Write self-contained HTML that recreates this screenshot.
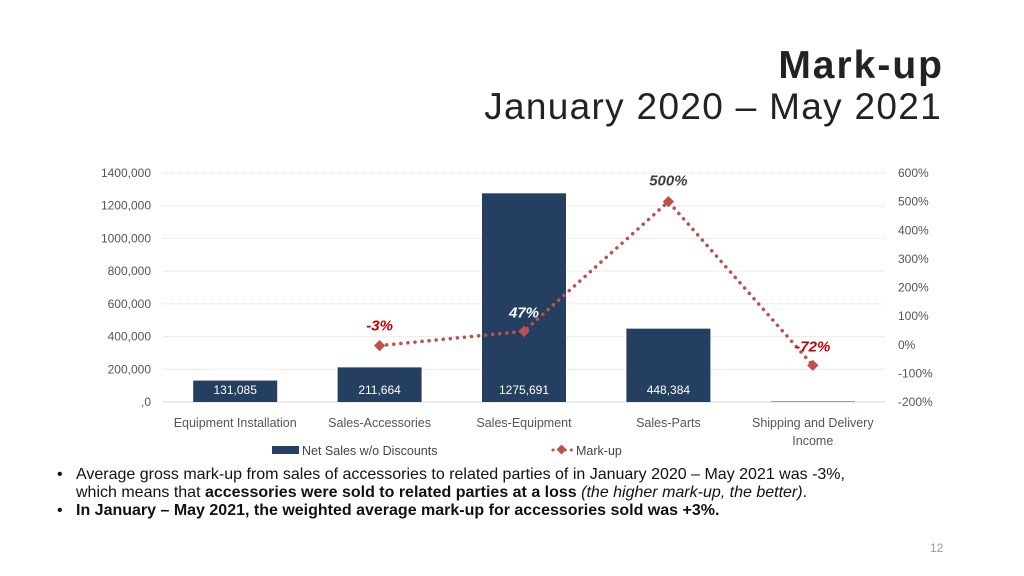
<!DOCTYPE html>
<html><head><meta charset="utf-8"><style>
body{margin:0;width:1024px;height:576px;background:#fff;font-family:"Liberation Sans",sans-serif;position:relative;overflow:hidden}
.t1{position:absolute;right:80px;top:44px;font-size:39px;font-weight:bold;color:#222;letter-spacing:2px}
.t2{position:absolute;right:82px;top:86px;font-size:37px;color:#222;letter-spacing:1.3px}
.bul{position:absolute;left:57px;top:466px;font-size:16px;color:#111;line-height:18px;width:815px}
.bul div{position:relative;padding-left:19px}
.bul div span.d{position:absolute;left:0}
.pn{position:absolute;left:930px;top:541px;font-size:12px;color:#999}
</style></head><body>
<div class="t1">Mark-up</div>
<div class="t2">January 2020 – May 2021</div>
<svg id="chart" width="1024" height="576" style="position:absolute;left:0;top:0"></svg>
<div class="bul">
<div><span class="d">•</span>Average gross mark-up from sales of accessories to related parties of in January 2020 – May 2021 was -3%, which means that <b>accessories were sold to related parties at a loss</b> <i>(the higher mark-up, the better)</i>.</div>
<div><span class="d">•</span><b>In January – May 2021, the weighted average mark-up for accessories sold was +3%.</b></div>
</div>
<div class="pn">12</div>
<script>
const categories=["Equipment Installation","Sales-Accessories","Sales-Equipment","Sales-Parts","Shipping and Delivery|Income"];
const sales=[131085,211664,1275691,448384,3000];
const salesLabels=["131,085","211,664","1275,691","448,384",""];
const markup=[null,-3,47,500,-72];
const leftTicks=[0,200000,400000,600000,800000,1000000,1200000,1400000];
const leftTickLabels=[",0","200,000","400,000","600,000","800,000","1000,000","1200,000","1400,000"];
const rightTicks=[-200,-100,0,100,200,300,400,500,600];
const rightTickLabels=["-200%","-100%","0%","100%","200%","300%","400%","500%","600%"];

const svg=document.getElementById('chart');const NS='http://www.w3.org/2000/svg';
function el(t,a,txt){const e=document.createElementNS(NS,t);for(const k in a)e.setAttribute(k,a[k]);if(txt!=null)e.textContent=txt;svg.appendChild(e);return e;}
const x0=163,x1=885,yB=402,yT=173;
const yL=v=>yB-(v/1400000)*(yB-yT);
const yR=v=>yB-((v+200)/800)*(yB-yT);
const bw=(x1-x0)/categories.length;
const xC=i=>x0+bw*(i+0.5);
leftTicks.forEach((t,i)=>{const y=yL(t);
 if(i>0){const g=el('line',{x1:x0,x2:x1,y1:y,y2:y,stroke:'#ddd','stroke-dasharray':'1 1'});}
 const l=el('text',{x:151,y:y+4,'text-anchor':'end','font-size':12,fill:'#555'},leftTickLabels[i]);});
rightTicks.forEach((t,i)=>{const l=el('text',{x:898,y:yR(t)+4,'font-size':12,fill:'#555'},rightTickLabels[i]);});
const ax=el('line',{x1:x0,x2:x1,y1:yB,y2:yB,stroke:'#d9d9d9'});
categories.forEach((c,i)=>{const y=yL(sales[i]);
 const b=el('rect',{x:xC(i)-42,y:y,width:84,height:yB-y,fill:'#243f60'});
 if(salesLabels[i]){const t=el('text',{x:xC(i),y:394,'text-anchor':'middle','font-size':12,fill:'#fff'},salesLabels[i]);}
 c.split('|').forEach((p,j)=>{const t=el('text',{x:xC(i),y:427+j*18,'text-anchor':'middle','font-size':12.5,fill:'#555'},p);});});
const pts=markup.map((v,i)=>v==null?null:[xC(i),yR(v)]).filter(p=>p);
const ln=el('polyline',{points:pts.map(p=>p.join(',')).join(' '),fill:'none',stroke:'#c0504d','stroke-width':3.5,'stroke-dasharray':'0.1 7','stroke-linecap':'round'});
markup.forEach((v,i)=>{if(v==null)return;const x=xC(i),y=yR(v);
 const m=el('rect',{x:x-4,y:y-4,width:8,height:8,fill:'#c0504d',transform:`rotate(45 ${x} ${y})`});
 const off={1:[0,-15],2:[0,-14],3:[0,-16],4:[0,-14]}[i];
 const t=el('text',{x:x+off[0],y:y+off[1],'text-anchor':'middle','font-size':15,'font-weight':'bold','font-style':'italic',fill:i==3?'#404040':(i==2?'#fff':'#c00000')},v+'%');});
const lr=el('rect',{x:272,y:446,width:27,height:8,fill:'#243f60'});
const lt=el('text',{x:302,y:455,'font-size':12.5,fill:'#444'},'Net Sales w/o Discounts');
const ll=el('line',{x1:553,x2:572,y1:450,y2:450,stroke:'#c0504d','stroke-width':3,'stroke-dasharray':'0.1 6','stroke-linecap':'round'});
const lm=el('rect',{x:558,y:446,width:7,height:7,fill:'#c0504d',transform:'rotate(45 561.5 449.5)'});
const lt2=el('text',{x:576,y:455,'font-size':12.5,fill:'#444'},'Mark-up');
</script>
</body></html>
